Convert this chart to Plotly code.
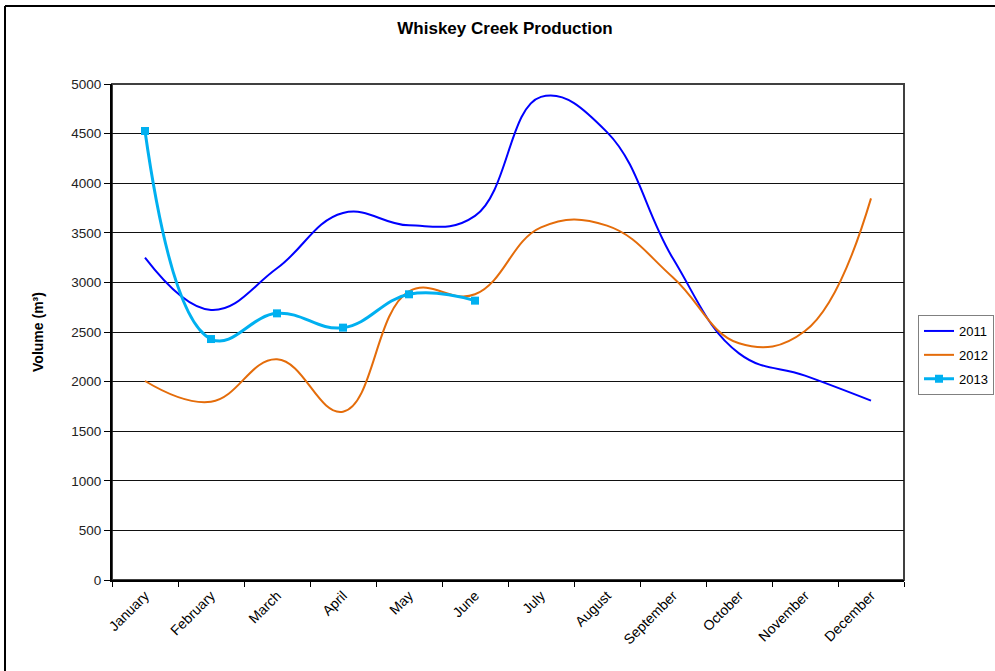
import plotly.graph_objects as go

months = ["January", "February", "March", "April", "May", "June", "July",
          "August", "September", "October", "November", "December"]
y2011 = [3249, 2722, 3142, 3700, 3575, 3670, 4870, 4515, 3240, 2285, 2060, 1808]
y2012 = [2006, 1797, 2225, 1697, 2910, 2880, 3555, 3572, 3050, 2386, 2510, 3847]
y2013 = [4526, 2429, 2688, 2544, 2880, 2816]

FONT = "Liberation Sans, Arial, sans-serif"
SMOOTH = 1.2

fig = go.Figure()
fig.add_trace(go.Scatter(x=months, y=y2011, name="2011", mode="lines", legendgroup="a",
                         line=dict(color="#0000FF", width=2, shape="spline", smoothing=SMOOTH)))
fig.add_trace(go.Scatter(x=months, y=y2012, name="2012", mode="lines", legendgroup="b",
                         line=dict(color="#E46C0A", width=2, shape="spline", smoothing=SMOOTH)))
fig.add_trace(go.Scatter(x=months[:len(y2013)], y=y2013, name="2013", mode="lines+markers",
                         legendgroup="c",
                         line=dict(color="#00B0F0", width=3, shape="spline", smoothing=SMOOTH),
                         marker=dict(symbol="square", size=8, color="#00B0F0")))

L, R, T, B = 112, 91, 84, 91
W, H = 995, 671
pw, ph = W - L - R, H - T - B

def px(xp):
    return (xp - L) / pw

def py(yp):
    return (H - B - yp) / ph

fig.update_layout(
    width=W, height=H,
    margin=dict(l=L, r=R, t=T, b=B, autoexpand=False),
    paper_bgcolor="white", plot_bgcolor="white",
    font=dict(family=FONT, size=13, color="#000000"),
    title=dict(text="<b>Whiskey Creek Production</b>", x=505 / W, xref="container",
               xanchor="center", y=1 - 28 / H, yref="container", yanchor="middle",
               font=dict(family=FONT, size=17, color="#000000")),
    showlegend=True,
    legend=dict(x=px(918), y=py(315), xanchor="left", yanchor="top",
                bgcolor="white", bordercolor="#808080", borderwidth=1,
                font=dict(family=FONT, size=13, color="#000000"),
                tracegroupgap=4, itemwidth=30),
    xaxis=dict(type="category", range=[-0.5, 11.5], tickangle=-45,
               showline=True, linecolor="#000000", linewidth=2, mirror=False,
               ticks="outside", ticklen=5, tickcolor="#000000", tickson="boundaries",
               showgrid=False, tickfont=dict(family=FONT, size=14, color="#000000")),
    yaxis=dict(range=[0, 5000], dtick=500, showgrid=True, gridcolor="#111111", gridwidth=1,
               showline=True, linecolor="#000000", linewidth=2, mirror=False,
               ticks="outside", ticklen=6, tickcolor="#000000", zeroline=False,
               tickfont=dict(family=FONT, size=13.5, color="#222222"),
               title=dict(text="<b>Volume (m³)</b>", standoff=24,
                          font=dict(family=FONT, size=14, color="#000000"))),
    shapes=[
        dict(type="rect", xref="paper", yref="paper", x0=0, x1=1, y0=0, y1=1, layer="below",
             line=dict(color="#404040", width=2)),
        dict(type="line", xref="paper", yref="paper", x0=px(5), x1=px(5), y0=py(671), y1=py(6),
             line=dict(color="#000000", width=2)),
        dict(type="line", xref="paper", yref="paper", x0=px(5), x1=px(995), y0=py(6), y1=py(6),
             line=dict(color="#000000", width=2)),
    ],
)

fig.write_html("out.html", config={"displayModeBar": False},
               post_script="document.body.style.margin='0';")
